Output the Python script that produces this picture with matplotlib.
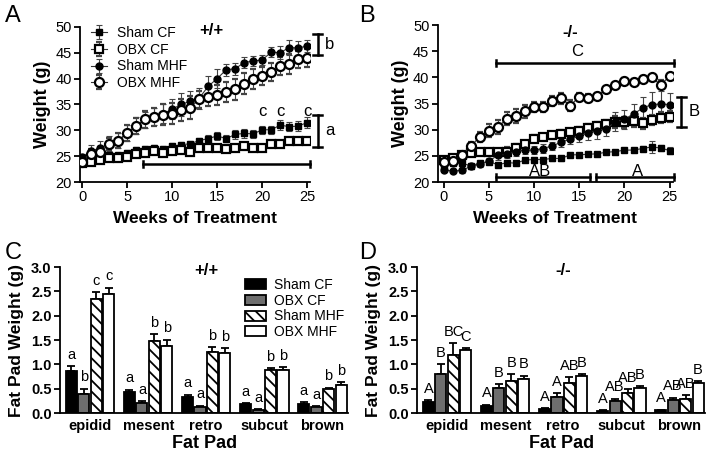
import numpy as np
import matplotlib
matplotlib.use("Agg")
import matplotlib.pyplot as plt
from matplotlib.patches import Patch

plt.rcParams['font.family'] = ['Liberation Sans', 'DejaVu Sans']
plt.rcParams['hatch.linewidth'] = 1.3

weeks = list(range(26))

# panel A (+/+)
a_sham_cf = [24.2, 24.7, 25.0, 25.3, 25.2, 25.6, 26.2, 26.4, 26.6, 26.4, 26.9, 27.2, 27.4, 28.0, 28.4, 28.9,
             28.4, 29.2, 29.4, 29.3, 30.1, 30.1, 31.0, 30.7, 30.8, 31.5]
a_sham_cf_err = [0.5, 0.5, 0.5, 0.5, 0.5, 0.5, 0.5, 0.6, 0.6, 0.6, 0.6, 0.6, 0.6, 0.6, 0.6, 0.7,
                 0.7, 0.8, 0.8, 0.8, 0.8, 0.8, 0.9, 0.9, 0.9, 1.0]
a_obx_cf = [23.6, 23.8, 24.2, 24.6, 24.6, 24.8, 25.4, 25.7, 25.9, 25.6, 25.9, 26.1, 25.8, 26.6, 26.6, 26.6,
            26.3, 26.6, 26.9, 26.6, 26.6, 27.4, 27.4, 27.9, 28.0, 28.0]
a_obx_cf_err = [0.4] * 26
a_sham_mhf = [24.8, 26.0, 26.6, 27.4, 28.0, 29.5, 30.9, 32.0, 32.7, 33.2, 34.1, 35.0, 35.6, 36.2, 38.5, 40.0,
              41.7, 41.9, 43.1, 43.4, 43.6, 45.1, 45.0, 46.0, 45.9, 46.3]
a_sham_mhf_err = [0.6, 1.2, 1.3, 1.4, 1.5, 1.6, 1.6, 1.6, 1.7, 1.8, 2.0, 2.2, 2.0, 2.0, 2.0, 1.8,
                  1.2, 1.2, 1.0, 1.0, 1.0, 1.0, 1.3, 1.4, 1.4, 1.2]
a_obx_mhf = [23.9, 25.5, 25.8, 27.3, 28.0, 29.5, 30.8, 32.1, 32.6, 33.0, 33.2, 33.9, 34.4, 36.0, 36.4, 36.8,
             37.4, 37.9, 39.0, 39.9, 40.5, 41.3, 42.4, 42.8, 43.7, 44.0]
a_obx_mhf_err = [0.5, 0.8, 1.0, 1.2, 1.4, 1.6, 1.5, 1.6, 1.8, 2.0, 2.0, 2.2, 2.3, 1.6, 1.8, 2.0,
                 2.0, 2.0, 2.0, 2.0, 1.8, 1.8, 1.8, 2.0, 1.6, 1.8]

# panel B (-/-)
b_sham_cf = [23.0, 23.6, 23.6, 23.1, 23.6, 23.9, 23.3, 23.7, 23.6, 24.2, 24.3, 24.3, 24.5, 24.5, 25.2, 25.2,
             25.3, 25.4, 25.7, 25.8, 26.1, 26.1, 26.4, 26.7, 26.5, 26.0]
b_sham_cf_err = [0.4] * 23 + [1.2, 0.6, 0.6]
b_obx_cf = [24.2, 24.5, 25.2, 25.6, 25.8, 25.8, 25.8, 25.7, 26.5, 27.3, 28.3, 28.6, 28.9, 29.2, 29.5, 29.8,
            30.3, 30.7, 31.0, 31.5, 31.4, 31.6, 31.2, 31.8, 32.3, 32.5]
b_obx_cf_err = [0.5, 0.5, 0.5, 0.5, 0.5, 0.5, 0.6, 0.9, 0.7, 0.6, 0.6, 0.6, 0.6, 0.7, 0.7, 0.7,
                0.8, 0.8, 0.8, 1.2, 1.0, 1.0, 1.0, 1.0, 1.0, 1.0]
b_sham_mhf = [22.3, 22.1, 22.2, 23.0, 23.4, 24.0, 25.1, 25.3, 25.8, 26.1, 26.1, 26.4, 26.9, 27.6, 28.2, 28.8,
              29.4, 29.8, 30.2, 31.5, 32.0, 33.0, 34.1, 34.8, 34.9, 34.8]
b_sham_mhf_err = [0.4, 0.4, 0.4, 0.5, 0.6, 0.6, 0.8, 0.8, 0.8, 0.8, 0.8, 0.8, 0.8, 0.9, 1.0, 1.2,
                  1.3, 1.5, 1.5, 1.8, 1.8, 2.0, 2.2, 2.4, 2.4, 2.3]
b_obx_mhf = [23.8, 24.1, 25.1, 26.9, 28.6, 29.8, 30.5, 32.1, 32.6, 33.5, 34.3, 34.3, 35.5, 36.0, 34.6, 36.3,
             36.0, 36.5, 37.7, 38.5, 39.3, 39.2, 39.7, 40.0, 38.6, 40.2]
b_obx_mhf_err = [0.5, 0.5, 0.6, 0.8, 1.0, 1.2, 1.3, 1.3, 1.3, 1.2, 1.0, 1.0, 1.0, 1.0, 1.0, 0.8,
                 0.8, 0.6, 0.5, 0.5, 0.5, 0.5, 0.5, 0.5, 0.8, 0.5]

# panel C / D fat pads
pads = ['epidid', 'mesent', 'retro', 'subcut', 'brown']
groups = ['Sham CF', 'OBX CF', 'Sham MHF', 'OBX MHF']

c_vals = [[0.87, 0.43, 0.33, 0.18, 0.19],
          [0.40, 0.21, 0.13, 0.07, 0.12],
          [2.35, 1.48, 1.25, 0.88, 0.49],
          [2.44, 1.38, 1.23, 0.88, 0.58]]
c_err = [[0.10, 0.05, 0.05, 0.02, 0.03],
         [0.10, 0.03, 0.02, 0.01, 0.02],
         [0.13, 0.14, 0.10, 0.04, 0.03],
         [0.14, 0.13, 0.10, 0.07, 0.06]]
c_letters = [['a', 'a', 'a', 'a', 'a'],
             ['b', 'a', 'a', 'a', 'a'],
             ['c', 'b', 'b', 'b', 'b'],
             ['c', 'b', 'b', 'b', 'b']]

d_vals = [[0.23, 0.15, 0.09, 0.05, 0.06],
          [0.80, 0.51, 0.34, 0.24, 0.26],
          [1.20, 0.66, 0.62, 0.41, 0.30],
          [1.29, 0.70, 0.77, 0.52, 0.61]]
d_err = [[0.03, 0.02, 0.01, 0.01, 0.01],
         [0.20, 0.09, 0.07, 0.06, 0.06],
         [0.24, 0.14, 0.12, 0.08, 0.07],
         [0.05, 0.07, 0.03, 0.03, 0.05]]
d_letters = [['A', 'A', 'A', 'A', 'A'],
             ['B', 'B', 'A', 'AB', 'AB'],
             ['BC', 'B', 'AB', 'AB', 'AB'],
             ['C', 'B', 'B', 'B', 'B']]

fig = plt.figure(figsize=(7.14, 4.55), dpi=100)

line_styles = [
    dict(marker='s', mfc='black', mec='black', ms=5),
    dict(marker='s', mfc='white', mec='black', ms=6, mew=1.6),
    dict(marker='o', mfc='black', mec='black', ms=5),
    dict(marker='o', mfc='white', mec='black', ms=6.5, mew=1.6),
]


def style_axes(ax):
    for s in ['top', 'right']:
        ax.spines[s].set_visible(False)
    for s in ['left', 'bottom']:
        ax.spines[s].set_linewidth(1.3)
    ax.tick_params(width=1.3, length=4, labelsize=10.5, pad=2)


def line_panel(ax, series, errs):
    for s, e, st, lab in zip(series, errs, line_styles, groups):
        ax.errorbar(weeks, s, yerr=e, color='#333333', lw=0.8, ecolor='#444444', elinewidth=0.8,
                    capsize=2.5, capthick=0.8, label=lab, zorder=3, **st)
    ax.set_ylim(20, 50)
    ax.set_yticks(range(20, 51, 5))
    ax.set_xticks(range(0, 26, 5))
    style_axes(ax)
    ax.set_xlabel('Weeks of Treatment', fontsize=12.5, fontweight='bold', labelpad=5)
    ax.set_ylabel('Weight (g)', fontsize=13, fontweight='bold', labelpad=3)


def bracket(ax, x, y0, y1, w=0.5):
    ax.plot([x, x], [y0, y1], color='black', lw=1.8, clip_on=False)
    ax.plot([x - w, x + w], [y0, y0], color='black', lw=1.8, clip_on=False)
    ax.plot([x - w, x + w], [y1, y1], color='black', lw=1.8, clip_on=False)


def hbar(ax, x0, x1, y, h=0.6):
    ax.plot([x0, x1], [y, y], color='black', lw=1.8, clip_on=False)
    ax.plot([x0, x0], [y - h, y + h], color='black', lw=1.8, clip_on=False)
    ax.plot([x1, x1], [y - h, y + h], color='black', lw=1.8, clip_on=False)


# Panel A
axA = fig.add_axes([0.112, 0.600, 0.322, 0.341])
line_panel(axA, [a_sham_cf, a_obx_cf, a_sham_mhf, a_obx_mhf],
           [a_sham_cf_err, a_obx_cf_err, a_sham_mhf_err, a_obx_mhf_err])
axA.set_xlim(-0.25, 25.3)
axA.legend(loc='upper left', bbox_to_anchor=(0.01, 1.06), frameon=False, fontsize=10,
           handlelength=1.2, handletextpad=0.7, labelspacing=0.2, borderaxespad=0.2)
axA.text(14.3, 49.2, '+/+', fontsize=12, fontweight='bold', ha='center', va='center')
bracket(axA, 26.2, 44.5, 48.7)
axA.text(27.0, 46.6, 'b', fontsize=12, va='center')
bracket(axA, 26.2, 26.7, 33.0)
axA.text(27.0, 29.9, 'a', fontsize=12, va='center')
for xx in [20, 22, 25]:
    axA.text(xx, 33.6, 'c', fontsize=12, ha='center', va='center')
hbar(axA, 6.8, 25.3, 23.5)

# Panel B
axB = fig.add_axes([0.613, 0.600, 0.330, 0.345])
line_panel(axB, [b_sham_cf, b_obx_cf, b_sham_mhf, b_obx_mhf],
           [b_sham_cf_err, b_obx_cf_err, b_sham_mhf_err, b_obx_mhf_err])
axB.set_xlim(-0.66, 25.4)
axB.text(14.0, 48.6, '-/-', fontsize=12, fontweight='bold', ha='center', va='center')
hbar(axB, 5.8, 25.5, 42.8)
axB.text(14.8, 45.0, 'C', fontsize=12, ha='center', va='center')
bracket(axB, 26.3, 30.6, 36.2)
axB.text(27.1, 33.4, 'B', fontsize=12, va='center')
hbar(axB, 5.8, 16.2, 20.9)
axB.text(10.7, 22.0, 'AB', fontsize=12, ha='center', va='center')
hbar(axB, 16.8, 25.5, 20.9)
axB.text(21.4, 22.0, 'A', fontsize=12, ha='center', va='center')

# bar panels
bar_w = 0.19
bar_step = 0.215
bar_styles = [
    dict(color='black', edgecolor='black'),
    dict(color='#6e6e6e', edgecolor='black'),
    dict(color='white', edgecolor='black', hatch='\\\\\\'),
    dict(color='white', edgecolor='black'),
]


def bar_panel(ax, vals, errs, letters):
    xs = np.arange(len(pads))
    for i in range(4):
        pos = xs + (i - 1.5) * bar_step
        ax.bar(pos, vals[i], width=bar_w, linewidth=1.3, label=groups[i], zorder=2, **bar_styles[i])
        ax.errorbar(pos, vals[i], yerr=[[0] * len(pads), errs[i]], fmt='none', ecolor='black',
                    elinewidth=1.3, capsize=3, capthick=1.3, zorder=1)
        for p, v, e, l in zip(pos, vals[i], errs[i], letters[i]):
            ax.text(p, v + e + 0.09, l, ha='center', va='bottom', fontsize=10.5)
    ax.set_ylim(0, 3.0)
    ax.set_yticks(np.arange(0, 3.01, 0.5))
    ax.yaxis.set_major_formatter(matplotlib.ticker.FormatStrFormatter('%.1f'))
    ax.set_xlim(-0.52, 4.45)
    ax.set_xticks(xs)
    ax.set_xticklabels(pads, fontsize=12, fontweight='bold')
    style_axes(ax)
    ax.tick_params(axis='x', length=0, pad=4)
    for t in ax.get_yticklabels():
        t.set_fontweight('bold')
    ax.set_xlabel('Fat Pad', fontsize=13, fontweight='bold', labelpad=2)
    ax.set_ylabel('Fat Pad Weight (g)', fontsize=12.5, fontweight='bold', labelpad=5)


axC = fig.add_axes([0.084, 0.092, 0.404, 0.321])
bar_panel(axC, c_vals, c_err, c_letters)
axC.text(2.0, 2.93, '+/+', fontsize=12, fontweight='bold', ha='center', va='center')
handles = [Patch(facecolor=st['color'], edgecolor='black', hatch=st.get('hatch'), linewidth=1.3)
           for st in bar_styles]
axC.legend(handles, groups, loc='upper right', bbox_to_anchor=(1.03, 1.01), frameon=False, fontsize=10,
           handlelength=1.5, handleheight=0.75, labelspacing=0.12, handletextpad=0.6)

axD = fig.add_axes([0.584, 0.092, 0.404, 0.321])
bar_panel(axD, d_vals, d_err, d_letters)
axD.text(2.0, 2.93, '-/-', fontsize=12, fontweight='bold', ha='center', va='center')

for lab, x, y in [('A', 0.007, 0.99), ('B', 0.503, 0.99), ('C', 0.007, 0.468), ('D', 0.503, 0.468)]:
    fig.text(x, y, lab, fontsize=17, ha='left', va='top')

fig.savefig('out.png', dpi=100)
